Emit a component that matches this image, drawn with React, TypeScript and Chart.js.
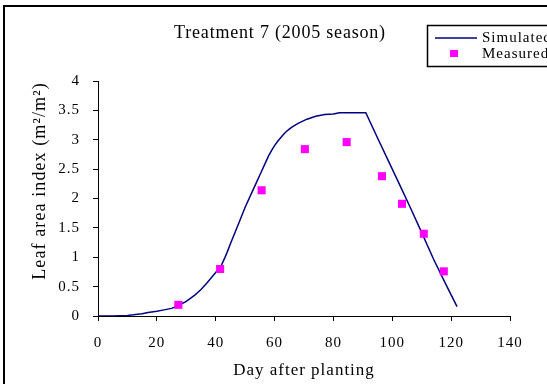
import React, { useEffect, useRef } from "react";
import { Chart, registerables } from "chart.js";

Chart.register(...registerables);

// ---- Data ----
const simDays = [0, 5, 10, 12, 15, 17, 20, 22, 25, 27, 30, 33, 35, 37, 40, 42, 43, 44, 45, 48, 50, 53, 55, 57, 58, 59, 60, 61, 62, 63, 64, 65, 66, 67, 68, 71, 74, 77, 80, 82, 85, 88, 91, 95, 100, 103, 106, 110, 114, 118, 122];
const simLAI = [0, 0, 0.01, 0.02, 0.04, 0.06, 0.08, 0.1, 0.13, 0.17, 0.25, 0.36, 0.45, 0.56, 0.74, 0.87, 0.98, 1.1, 1.23, 1.6, 1.85, 2.18, 2.4, 2.62, 2.73, 2.82, 2.9, 2.97, 3.03, 3.09, 3.14, 3.18, 3.22, 3.25, 3.28, 3.35, 3.4, 3.43, 3.44, 3.46, 3.46, 3.46, 3.46, 3.03, 2.5, 2.18, 1.86, 1.42, 0.97, 0.56, 0.16];
const measDays = [27.3, 41.5, 55.6, 70.3, 84.5, 96.5, 103.3, 110.7, 117.5];
const measLAI = [0.19, 0.8, 2.14, 2.84, 2.96, 2.38, 1.91, 1.4, 0.76];

const xMin = 0;
const xMax = 140;
const xStep = 20;
const yMin = 0;
const yMax = 4;
const yStep = 0.5;

const titleText = "Treatment 7 (2005 season)";
const xTitle = "Day after planting";
const yTitle = "Leaf area index (m\u00B2/m\u00B2)";
const seriesNames = ["Simulated", "Measured"];

const SERIF = '"Liberation Serif", "Times New Roman", serif';
const NAVY = "#000080";
const MAGENTA = "#FF00FF";

export default function App() {
  const ref = useRef<HTMLCanvasElement | null>(null);

  useEffect(() => {
    document.body.style.margin = "0";
    const canvas = ref.current;
    if (!canvas) return;

    const deco = {
      id: "deco",
      beforeDraw(chart: any) {
        chart.ctx.letterSpacing = "1px";
      },
      afterDraw(chart: any) {
        const ctx = chart.ctx as CanvasRenderingContext2D;
        const ca = chart.chartArea;
        ctx.save();
        // outer frame
        ctx.fillStyle = "#000";
        ctx.fillRect(3, 5, 2, 400);
        ctx.fillRect(3, 5, 560, 2);

        // title
        ctx.fillStyle = "#000";
        ctx.font = `18px ${SERIF}`;
        (ctx as any).letterSpacing = "0.8px";
        ctx.textAlign = "center";
        ctx.textBaseline = "middle";
        ctx.fillText(titleText, 280, 33);

        // x axis title
        ctx.font = `17px ${SERIF}`;
        (ctx as any).letterSpacing = "1px";
        ctx.fillText(xTitle, (ca.left + ca.right) / 2, 371);

        // y axis title
        ctx.save();
        ctx.translate(40, 181);
        ctx.rotate(-Math.PI / 2);
        ctx.font = `18px ${SERIF}`;
        (ctx as any).letterSpacing = "1.1px";
        ctx.fillText(yTitle, 0, 0);
        ctx.restore();

        // legend
        (ctx as any).letterSpacing = "1px";
        ctx.lineWidth = 1.5;
        ctx.strokeStyle = "#000";
        ctx.strokeRect(427.5, 25.5, 200, 41);
        ctx.beginPath();
        ctx.strokeStyle = NAVY;
        ctx.lineWidth = 1.5;
        ctx.moveTo(435, 38);
        ctx.lineTo(477, 38);
        ctx.stroke();
        ctx.fillStyle = MAGENTA;
        ctx.fillRect(450, 50, 8, 7);
        ctx.fillStyle = "#000";
        ctx.font = `15px ${SERIF}`;
        ctx.textAlign = "left";
        ctx.fillText(seriesNames[0], 482, 38);
        ctx.fillText(seriesNames[1], 482, 54);
        ctx.restore();
      },
    };

    const chart = new Chart(canvas, {
      type: "scatter",
      data: {
        datasets: [
          {
            label: seriesNames[0],
            type: "line",
            data: simDays.map((d, i) => ({ x: d, y: simLAI[i] })),
            borderColor: NAVY,
            borderWidth: 1.5,
            pointRadius: 0,
            tension: 0,
            fill: false,
            order: 1,
          } as any,
          {
            label: seriesNames[1],
            data: measDays.map((d, i) => ({ x: d, y: measLAI[i] })),
            showLine: false,
            pointStyle: "rect",
            pointRadius: 5.7,
            backgroundColor: MAGENTA,
            borderColor: MAGENTA,
            borderWidth: 0,
            order: 0,
          },
        ],
      },
      options: {
        animation: false,
        responsive: false,
        devicePixelRatio: 1,
        layout: { padding: { left: 38, right: 37, top: 81, bottom: 28 } },
        plugins: {
          legend: { display: false },
          title: { display: false },
          tooltip: { enabled: false },
        },
        scales: {
          x: {
            type: "linear",
            min: xMin,
            max: xMax,
            ticks: {
              stepSize: xStep,
              color: "#000",
              font: { family: SERIF, size: 15 },
              padding: 13,
              maxRotation: 0,
              callback: (v: any) => String(v),
            },
            grid: { drawOnChartArea: false, drawTicks: true, tickLength: 5, color: "#000" },
            border: { color: "#000", width: 1 },
            afterFit: (s: any) => {
              s.height = 40;
            },
          },
          y: {
            type: "linear",
            min: yMin,
            max: yMax,
            ticks: {
              stepSize: yStep,
              color: "#000",
              font: { family: SERIF, size: 15 },
              padding: 13,
              callback: (v: any) => String(v),
            },
            grid: { drawOnChartArea: false, drawTicks: true, tickLength: 5, color: "#000" },
            border: { color: "#000", width: 1 },
            afterFit: (s: any) => {
              s.width = 60;
            },
          },
        },
      },
      plugins: [deco],
    });

    return () => chart.destroy();
  }, []);

  return (
    <div style={{ width: 547, height: 384, position: "relative", background: "#fff" }}>
      <canvas ref={ref} width={547} height={384} style={{ display: "block" }} />
    </div>
  );
}
